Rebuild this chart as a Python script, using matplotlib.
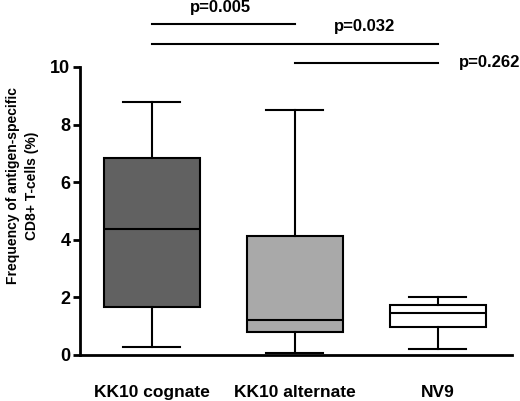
import numpy as np
import matplotlib
matplotlib.use("Agg")
from matplotlib import pyplot as plt

# box summaries
groups = ["KK10 cognate", "KK10 alternate", "NV9"]
whislo = [0.28, 0.07, 0.20]
q1 = [1.67, 0.80, 0.97]
med = [4.37, 1.22, 1.45]
q3 = [6.84, 4.13, 1.74]
whishi = [8.78, 8.50, 2.00]
colors = ["#616161", "#a9a9a9", "#ffffff"]

# significance brackets: (from group, to group, p text)
pairs = [(1, 2, "p=0.005"), (1, 3, "p=0.032"), (2, 3, "p=0.262")]

plt.rcParams['font.family'] = ['Liberation Sans', 'DejaVu Sans']
plt.rcParams['font.weight'] = 'bold'

fig = plt.figure(figsize=(5.2, 4.01), dpi=100)
ax = fig.add_axes([0.154, 0.115, 0.831, 0.718])

stats = []
for i in range(len(groups)):
    stats.append(dict(whislo=whislo[i], q1=q1[i], med=med[i], q3=q3[i],
                      whishi=whishi[i], fliers=[], label=groups[i]))
pos = np.arange(1, len(groups) + 1)
bp = ax.bxp(stats, positions=pos, widths=0.67, patch_artist=True,
            showfliers=False,
            boxprops=dict(linewidth=1.5, edgecolor="black"),
            medianprops=dict(linewidth=1.5, color="black"),
            whiskerprops=dict(linewidth=1.5, color="black"),
            capprops=dict(linewidth=1.5, color="black"),
            capwidths=0.4)
for patch, c in zip(bp["boxes"], colors):
    patch.set_facecolor(c)

ax.set_xlim(0.5, 3.52)
ax.set_ylim(0, 10)
ax.set_yticks([0, 2, 4, 6, 8, 10])
ax.spines["top"].set_visible(False)
ax.spines["right"].set_visible(False)
ax.spines["left"].set_linewidth(2)
ax.spines["bottom"].set_linewidth(2)
ax.tick_params(axis="y", width=2, length=5, labelsize=13, pad=2)
ax.tick_params(axis="x", length=0, pad=22, labelsize=12.5)
for lab in ax.get_xticklabels() + ax.get_yticklabels():
    lab.set_fontweight("bold")

ax.set_ylabel("Frequency of antigen-specific\nCD8+ T-cells (%)",
              fontsize=10, fontweight="bold", linespacing=1.45)
ax.yaxis.set_label_coords(-0.095, 0.587)

# brackets above the plot
line_y = [11.49, 10.80, 10.14]
for (a, b, txt), ly in zip(pairs, line_y):
    ax.plot([a, b], [ly, ly], color="black", lw=1.5, clip_on=False)
ax.text(1.48, 12.08, pairs[0][2], ha="center", va="center", fontsize=12, fontweight="bold")
ax.text(2.49, 11.42, pairs[1][2], ha="center", va="center", fontsize=12, fontweight="bold")
ax.text(3.15, 10.14, pairs[2][2], ha="left", va="center", fontsize=12, fontweight="bold")

fig.savefig("out.png", dpi=100)
